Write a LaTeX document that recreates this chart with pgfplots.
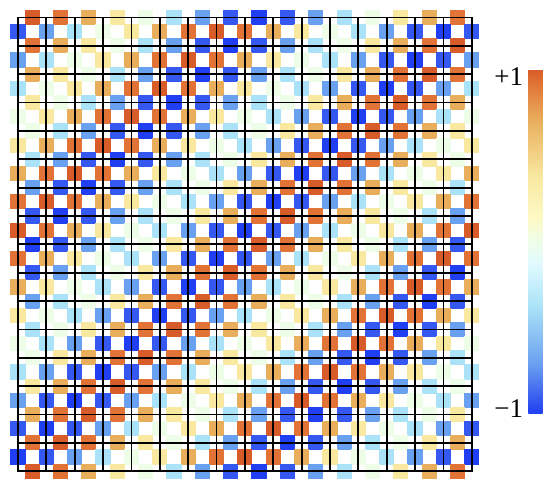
\documentclass[border=0pt]{standalone}
\usepackage{fontspec}
\setmainfont{Liberation Serif}
\usepackage{pgfplots}
\pgfplotsset{compat=1.18}
\pgfplotsset{colormap={bwr}{
rgb255(0pt)=(32,62,242);
rgb255(4pt)=(52,88,240);
rgb255(14.5pt)=(106,160,240);
rgb255(31pt)=(170,226,248);
rgb255(44pt)=(226,251,255);
rgb255(50pt)=(238,253,232);
rgb255(57pt)=(253,249,197);
rgb255(69pt)=(248,232,160);
rgb255(85.5pt)=(233,174,92);
rgb255(96pt)=(224,115,53);
rgb255(100pt)=(216,92,42);
}}
\begin{document}
\begin{tikzpicture}[x=1pt,y=1pt]
\useasboundingbox (0,0) rectangle (554,489);
\begin{axis}[
  at={(18pt,471.5pt)}, anchor=north west,
  scale only axis, x=14.18pt, y=14.18pt,
  y dir=reverse,
  xmin=0, xmax=32, ymin=0, ymax=32,
  xtick=\empty, ytick=\empty,
  axis line style={draw=none},
  clip=false,
  colormap name=bwr,
  point meta min=-1, point meta max=1,
  colorbar,
  colorbar style={
    at={(1.1246,0.885)}, anchor=north west,
    width=14.7pt, height=344pt,
    axis line style={draw=none},
    ytick={-0.969,0.961},
    yticklabels={−1,+1},
    major tick length=0pt,
    yticklabel pos=left,
    yticklabel style={font=\fontsize{27}{27}\selectfont, anchor=east, xshift=-5pt, inner sep=0pt},
    samples=60,
  },
]
\addplot[scatter, only marks, mark=square*, mark size=7.09pt,
  scatter/use mapped color={draw=mapped color, fill=mapped color},
  mark options={line width=0pt},
  point meta=explicit]
  table[meta=c,row sep=\\]{
x y c\\
1 0 1\\3 0 .92\\5 0 .71\\7 0 .38\\9 0 0\\11 0 -.38\\13 0 -.71\\15 0 -.92\\17 0 -1\\19 0 -.92\\21 0 -.71\\23 0 -.38\\25 0 0\\27 0 .38\\29 0 .71\\31 0 .92\\
0 1 -.92\\2 1 -.71\\4 1 -.38\\6 1 0\\8 1 .38\\10 1 .71\\12 1 .92\\14 1 1\\16 1 .92\\18 1 .71\\20 1 .38\\22 1 0\\24 1 -.38\\26 1 -.71\\28 1 -.92\\30 1 -1\\32 1 -.92\\
1 2 .92\\3 2 .71\\5 2 .38\\7 2 0\\9 2 -.38\\11 2 -.71\\13 2 -.92\\15 2 -1\\17 2 -.92\\19 2 -.71\\21 2 -.38\\23 2 0\\25 2 .38\\27 2 .71\\29 2 .92\\31 2 1\\
0 3 -.71\\2 3 -.38\\4 3 0\\6 3 .38\\8 3 .71\\10 3 .92\\12 3 1\\14 3 .92\\16 3 .71\\18 3 .38\\20 3 0\\22 3 -.38\\24 3 -.71\\26 3 -.92\\28 3 -1\\30 3 -.92\\32 3 -.71\\
1 4 .71\\3 4 .38\\5 4 0\\7 4 -.38\\9 4 -.71\\11 4 -.92\\13 4 -1\\15 4 -.92\\17 4 -.71\\19 4 -.38\\21 4 0\\23 4 .38\\25 4 .71\\27 4 .92\\29 4 1\\31 4 .92\\
0 5 -.38\\2 5 0\\4 5 .38\\6 5 .71\\8 5 .92\\10 5 1\\12 5 .92\\14 5 .71\\16 5 .38\\18 5 0\\20 5 -.38\\22 5 -.71\\24 5 -.92\\26 5 -1\\28 5 -.92\\30 5 -.71\\32 5 -.38\\
1 6 .38\\3 6 0\\5 6 -.38\\7 6 -.71\\9 6 -.92\\11 6 -1\\13 6 -.92\\15 6 -.71\\17 6 -.38\\19 6 0\\21 6 .38\\23 6 .71\\25 6 .92\\27 6 1\\29 6 .92\\31 6 .71\\
0 7 0\\2 7 .38\\4 7 .71\\6 7 .92\\8 7 1\\10 7 .92\\12 7 .71\\14 7 .38\\16 7 0\\18 7 -.38\\20 7 -.71\\22 7 -.92\\24 7 -1\\26 7 -.92\\28 7 -.71\\30 7 -.38\\32 7 0\\
1 8 0\\3 8 -.38\\5 8 -.71\\7 8 -.92\\9 8 -1\\11 8 -.92\\13 8 -.71\\15 8 -.38\\17 8 0\\19 8 .38\\21 8 .71\\23 8 .92\\25 8 1\\27 8 .92\\29 8 .71\\31 8 .38\\
0 9 .38\\2 9 .71\\4 9 .92\\6 9 1\\8 9 .92\\10 9 .71\\12 9 .38\\14 9 0\\16 9 -.38\\18 9 -.71\\20 9 -.92\\22 9 -1\\24 9 -.92\\26 9 -.71\\28 9 -.38\\30 9 0\\32 9 .38\\
1 10 -.38\\3 10 -.71\\5 10 -.92\\7 10 -1\\9 10 -.92\\11 10 -.71\\13 10 -.38\\15 10 0\\17 10 .38\\19 10 .71\\21 10 .92\\23 10 1\\25 10 .92\\27 10 .71\\29 10 .38\\31 10 0\\
0 11 .71\\2 11 .92\\4 11 1\\6 11 .92\\8 11 .71\\10 11 .38\\12 11 0\\14 11 -.38\\16 11 -.71\\18 11 -.92\\20 11 -1\\22 11 -.92\\24 11 -.71\\26 11 -.38\\28 11 0\\30 11 .38\\32 11 .71\\
1 12 -.71\\3 12 -.92\\5 12 -1\\7 12 -.92\\9 12 -.71\\11 12 -.38\\13 12 0\\15 12 .38\\17 12 .71\\19 12 .92\\21 12 1\\23 12 .92\\25 12 .71\\27 12 .38\\29 12 0\\31 12 -.38\\
0 13 .92\\2 13 1\\4 13 .92\\6 13 .71\\8 13 .38\\10 13 0\\12 13 -.38\\14 13 -.71\\16 13 -.92\\18 13 -1\\20 13 -.92\\22 13 -.71\\24 13 -.38\\26 13 0\\28 13 .38\\30 13 .71\\32 13 .92\\
1 14 -.92\\3 14 -1\\5 14 -.92\\7 14 -.71\\9 14 -.38\\11 14 0\\13 14 .38\\15 14 .71\\17 14 .92\\19 14 1\\21 14 .92\\23 14 .71\\25 14 .38\\27 14 0\\29 14 -.38\\31 14 -.71\\
0 15 1\\2 15 .92\\4 15 .71\\6 15 .38\\8 15 0\\10 15 -.38\\12 15 -.71\\14 15 -.92\\16 15 -1\\18 15 -.92\\20 15 -.71\\22 15 -.38\\24 15 0\\26 15 .38\\28 15 .71\\30 15 .92\\32 15 1\\
1 16 -1\\3 16 -.92\\5 16 -.71\\7 16 -.38\\9 16 0\\11 16 .38\\13 16 .71\\15 16 .92\\17 16 1\\19 16 .92\\21 16 .71\\23 16 .38\\25 16 0\\27 16 -.38\\29 16 -.71\\31 16 -.92\\
0 17 .92\\2 17 .71\\4 17 .38\\6 17 0\\8 17 -.38\\10 17 -.71\\12 17 -.92\\14 17 -1\\16 17 -.92\\18 17 -.71\\20 17 -.38\\22 17 0\\24 17 .38\\26 17 .71\\28 17 .92\\30 17 1\\32 17 .92\\
1 18 -.92\\3 18 -.71\\5 18 -.38\\7 18 0\\9 18 .38\\11 18 .71\\13 18 .92\\15 18 1\\17 18 .92\\19 18 .71\\21 18 .38\\23 18 0\\25 18 -.38\\27 18 -.71\\29 18 -.92\\31 18 -1\\
0 19 .71\\2 19 .38\\4 19 0\\6 19 -.38\\8 19 -.71\\10 19 -.92\\12 19 -1\\14 19 -.92\\16 19 -.71\\18 19 -.38\\20 19 0\\22 19 .38\\24 19 .71\\26 19 .92\\28 19 1\\30 19 .92\\32 19 .71\\
1 20 -.71\\3 20 -.38\\5 20 0\\7 20 .38\\9 20 .71\\11 20 .92\\13 20 1\\15 20 .92\\17 20 .71\\19 20 .38\\21 20 0\\23 20 -.38\\25 20 -.71\\27 20 -.92\\29 20 -1\\31 20 -.92\\
0 21 .38\\2 21 0\\4 21 -.38\\6 21 -.71\\8 21 -.92\\10 21 -1\\12 21 -.92\\14 21 -.71\\16 21 -.38\\18 21 0\\20 21 .38\\22 21 .71\\24 21 .92\\26 21 1\\28 21 .92\\30 21 .71\\32 21 .38\\
1 22 -.38\\3 22 0\\5 22 .38\\7 22 .71\\9 22 .92\\11 22 1\\13 22 .92\\15 22 .71\\17 22 .38\\19 22 0\\21 22 -.38\\23 22 -.71\\25 22 -.92\\27 22 -1\\29 22 -.92\\31 22 -.71\\
0 23 0\\2 23 -.38\\4 23 -.71\\6 23 -.92\\8 23 -1\\10 23 -.92\\12 23 -.71\\14 23 -.38\\16 23 0\\18 23 .38\\20 23 .71\\22 23 .92\\24 23 1\\26 23 .92\\28 23 .71\\30 23 .38\\32 23 0\\
1 24 0\\3 24 .38\\5 24 .71\\7 24 .92\\9 24 1\\11 24 .92\\13 24 .71\\15 24 .38\\17 24 0\\19 24 -.38\\21 24 -.71\\23 24 -.92\\25 24 -1\\27 24 -.92\\29 24 -.71\\31 24 -.38\\
0 25 -.38\\2 25 -.71\\4 25 -.92\\6 25 -1\\8 25 -.92\\10 25 -.71\\12 25 -.38\\14 25 0\\16 25 .38\\18 25 .71\\20 25 .92\\22 25 1\\24 25 .92\\26 25 .71\\28 25 .38\\30 25 0\\32 25 -.38\\
1 26 .38\\3 26 .71\\5 26 .92\\7 26 1\\9 26 .92\\11 26 .71\\13 26 .38\\15 26 0\\17 26 -.38\\19 26 -.71\\21 26 -.92\\23 26 -1\\25 26 -.92\\27 26 -.71\\29 26 -.38\\31 26 0\\
0 27 -.71\\2 27 -.92\\4 27 -1\\6 27 -.92\\8 27 -.71\\10 27 -.38\\12 27 0\\14 27 .38\\16 27 .71\\18 27 .92\\20 27 1\\22 27 .92\\24 27 .71\\26 27 .38\\28 27 0\\30 27 -.38\\32 27 -.71\\
1 28 .71\\3 28 .92\\5 28 1\\7 28 .92\\9 28 .71\\11 28 .38\\13 28 0\\15 28 -.38\\17 28 -.71\\19 28 -.92\\21 28 -1\\23 28 -.92\\25 28 -.71\\27 28 -.38\\29 28 0\\31 28 .38\\
0 29 -.92\\2 29 -1\\4 29 -.92\\6 29 -.71\\8 29 -.38\\10 29 0\\12 29 .38\\14 29 .71\\16 29 .92\\18 29 1\\20 29 .92\\22 29 .71\\24 29 .38\\26 29 0\\28 29 -.38\\30 29 -.71\\32 29 -.92\\
1 30 .92\\3 30 1\\5 30 .92\\7 30 .71\\9 30 .38\\11 30 0\\13 30 -.38\\15 30 -.71\\17 30 -.92\\19 30 -1\\21 30 -.92\\23 30 -.71\\25 30 -.38\\27 30 0\\29 30 .38\\31 30 .71\\
0 31 -1\\2 31 -.92\\4 31 -.71\\6 31 -.38\\8 31 0\\10 31 .38\\12 31 .71\\14 31 .92\\16 31 1\\18 31 .92\\20 31 .71\\22 31 .38\\24 31 0\\26 31 -.38\\28 31 -.71\\30 31 -.92\\32 31 -1\\
1 32 1\\3 32 .92\\5 32 .71\\7 32 .38\\9 32 0\\11 32 -.38\\13 32 -.71\\15 32 -.92\\17 32 -1\\19 32 -.92\\21 32 -.71\\23 32 -.38\\25 32 0\\27 32 .38\\29 32 .71\\31 32 .92\\
};
\end{axis}
\begin{axis}[
  at={(18pt,471.5pt)}, anchor=north west,
  scale only axis, x=14.18pt, y=14.18pt,
  y dir=reverse,
  xmin=0, xmax=32, ymin=0, ymax=32,
  xtick={0,2,...,32}, ytick={0,2,...,32},
  xticklabels={}, yticklabels={},
  major tick length=0pt,
  grid=major,
  grid style={black,opacity=1,line width=1.8pt},
  axis line style={black,line width=1.8pt},
]
\end{axis}
\end{tikzpicture}
\end{document}
